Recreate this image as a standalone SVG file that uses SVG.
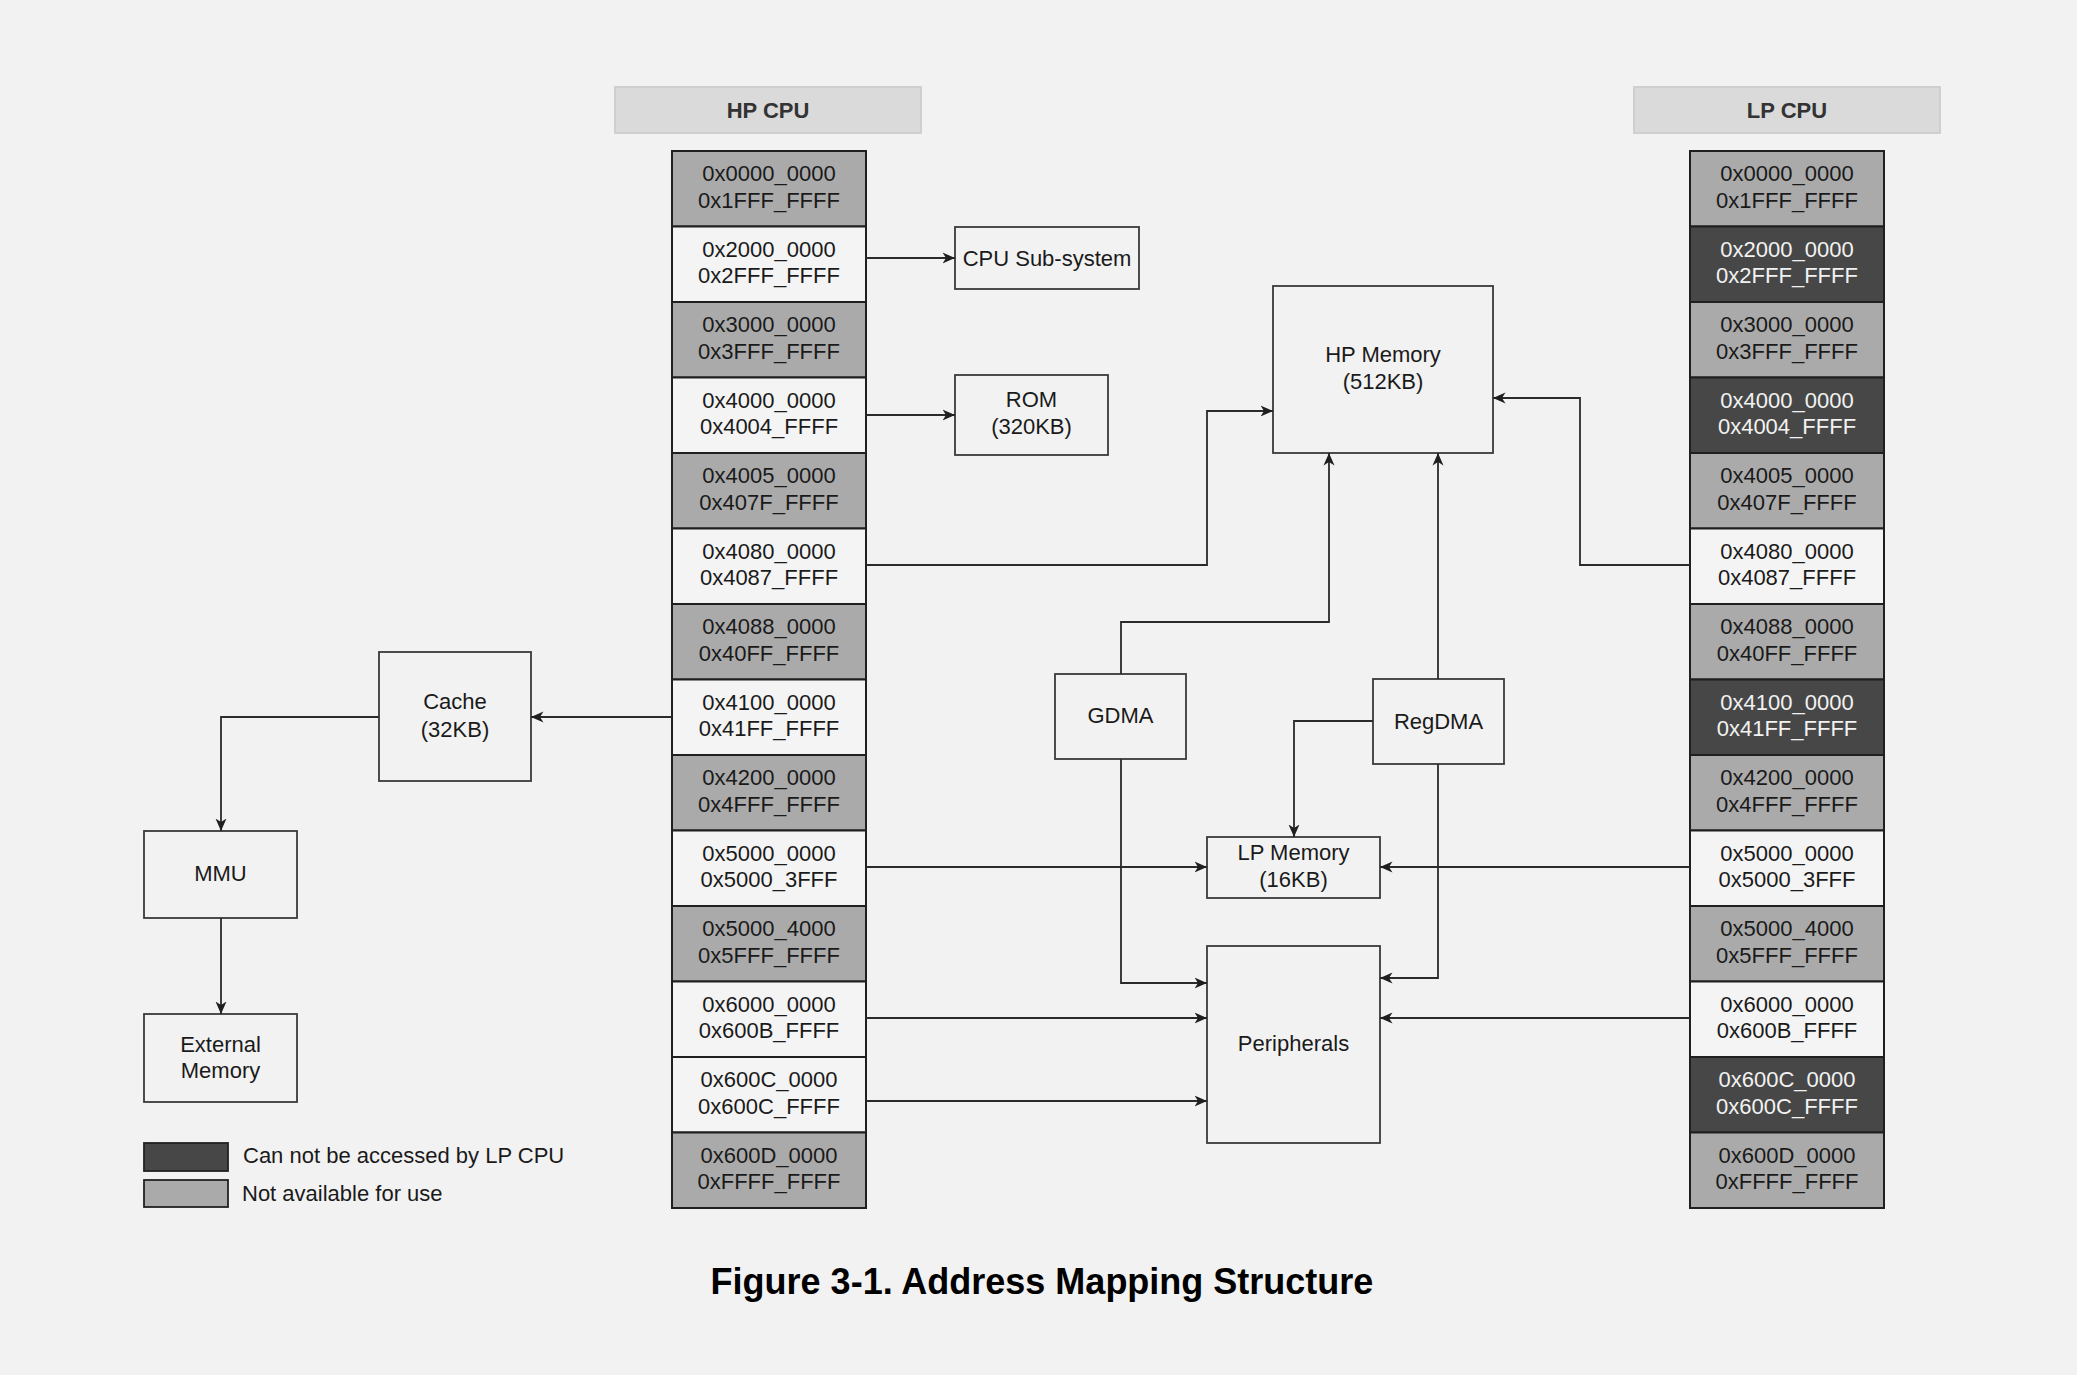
<svg xmlns="http://www.w3.org/2000/svg" width="2077" height="1375" viewBox="0 0 2077 1375">
<style>
  text { font-family: "Liberation Sans", Arial, Helvetica, sans-serif; font-size: 22px; fill: #1a1a1a; text-anchor: middle; }
  .hdr { fill: #dadada; stroke: #cfcfcf; stroke-width: 2; }
  .hdrt { font-weight: bold; fill: #333333; }
  .cell { stroke: #1f1f1f; stroke-width: 2; }
  .g { fill: #aaaaaa; }
  .w { fill: #f4f4f4; }
  .d { fill: #474747; }
  .dt { fill: #f2f2f2; }
  .box { fill: #f2f2f2; stroke: #3a3a3a; stroke-width: 1.8; }
  .conn path { fill: none; stroke: #2b2b2b; stroke-width: 1.8; marker-end: url(#arr); }
  .lg { text-anchor: start; }
  .cap { font-size: 36px; font-weight: bold; fill: #000000; }
</style>
<defs>
  <marker id="arr" markerUnits="userSpaceOnUse" markerWidth="13" markerHeight="12" refX="12.5" refY="6" orient="auto" viewBox="0 0 13 12">
    <path d="M0,0.5 L12.5,6 L0,11.5 L3.5,6 Z" fill="#1f1f1f"/>
  </marker>
</defs>
<rect x="0" y="0" width="2077" height="1375" fill="#f2f2f2"/>

<g id="hp-cpu-header">
  <rect class="hdr" x="615" y="87" width="306" height="46"/>
  <text class="hdrt" x="768" y="118">HP CPU</text>
</g>
<g id="lp-cpu-header">
  <rect class="hdr" x="1634" y="87" width="306" height="46"/>
  <text class="hdrt" x="1787" y="118">LP CPU</text>
</g>

<g id="hp-map">
  <g id="hp-r0"><rect class="cell g" x="672" y="151" width="194" height="75.5"/><text x="769" y="181">0x0000_0000</text><text x="769" y="208">0x1FFF_FFFF</text></g>
  <g id="hp-r1"><rect class="cell w" x="672" y="226.5" width="194" height="75.5"/><text x="769" y="257">0x2000_0000</text><text x="769" y="283">0x2FFF_FFFF</text></g>
  <g id="hp-r2"><rect class="cell g" x="672" y="302" width="194" height="75.5"/><text x="769" y="332">0x3000_0000</text><text x="769" y="359">0x3FFF_FFFF</text></g>
  <g id="hp-r3"><rect class="cell w" x="672" y="377.5" width="194" height="75.5"/><text x="769" y="408">0x4000_0000</text><text x="769" y="434">0x4004_FFFF</text></g>
  <g id="hp-r4"><rect class="cell g" x="672" y="453" width="194" height="75.5"/><text x="769" y="483">0x4005_0000</text><text x="769" y="510">0x407F_FFFF</text></g>
  <g id="hp-r5"><rect class="cell w" x="672" y="528.5" width="194" height="75.5"/><text x="769" y="559">0x4080_0000</text><text x="769" y="585">0x4087_FFFF</text></g>
  <g id="hp-r6"><rect class="cell g" x="672" y="604" width="194" height="75.5"/><text x="769" y="634">0x4088_0000</text><text x="769" y="661">0x40FF_FFFF</text></g>
  <g id="hp-r7"><rect class="cell w" x="672" y="679.5" width="194" height="75.5"/><text x="769" y="710">0x4100_0000</text><text x="769" y="736">0x41FF_FFFF</text></g>
  <g id="hp-r8"><rect class="cell g" x="672" y="755" width="194" height="75.5"/><text x="769" y="785">0x4200_0000</text><text x="769" y="812">0x4FFF_FFFF</text></g>
  <g id="hp-r9"><rect class="cell w" x="672" y="830.5" width="194" height="75.5"/><text x="769" y="861">0x5000_0000</text><text x="769" y="887">0x5000_3FFF</text></g>
  <g id="hp-r10"><rect class="cell g" x="672" y="906" width="194" height="75.5"/><text x="769" y="936">0x5000_4000</text><text x="769" y="963">0x5FFF_FFFF</text></g>
  <g id="hp-r11"><rect class="cell w" x="672" y="981.5" width="194" height="75.5"/><text x="769" y="1012">0x6000_0000</text><text x="769" y="1038">0x600B_FFFF</text></g>
  <g id="hp-r12"><rect class="cell w" x="672" y="1057" width="194" height="75.5"/><text x="769" y="1087">0x600C_0000</text><text x="769" y="1114">0x600C_FFFF</text></g>
  <g id="hp-r13"><rect class="cell g" x="672" y="1132.5" width="194" height="75.5"/><text x="769" y="1163">0x600D_0000</text><text x="769" y="1189">0xFFFF_FFFF</text></g>
</g>

<g id="lp-map">
  <g id="lp-r0"><rect class="cell g" x="1690" y="151" width="194" height="75.5"/><text x="1787" y="181">0x0000_0000</text><text x="1787" y="208">0x1FFF_FFFF</text></g>
  <g id="lp-r1"><rect class="cell d" x="1690" y="226.5" width="194" height="75.5"/><text class="dt" x="1787" y="257">0x2000_0000</text><text class="dt" x="1787" y="283">0x2FFF_FFFF</text></g>
  <g id="lp-r2"><rect class="cell g" x="1690" y="302" width="194" height="75.5"/><text x="1787" y="332">0x3000_0000</text><text x="1787" y="359">0x3FFF_FFFF</text></g>
  <g id="lp-r3"><rect class="cell d" x="1690" y="377.5" width="194" height="75.5"/><text class="dt" x="1787" y="408">0x4000_0000</text><text class="dt" x="1787" y="434">0x4004_FFFF</text></g>
  <g id="lp-r4"><rect class="cell g" x="1690" y="453" width="194" height="75.5"/><text x="1787" y="483">0x4005_0000</text><text x="1787" y="510">0x407F_FFFF</text></g>
  <g id="lp-r5"><rect class="cell w" x="1690" y="528.5" width="194" height="75.5"/><text x="1787" y="559">0x4080_0000</text><text x="1787" y="585">0x4087_FFFF</text></g>
  <g id="lp-r6"><rect class="cell g" x="1690" y="604" width="194" height="75.5"/><text x="1787" y="634">0x4088_0000</text><text x="1787" y="661">0x40FF_FFFF</text></g>
  <g id="lp-r7"><rect class="cell d" x="1690" y="679.5" width="194" height="75.5"/><text class="dt" x="1787" y="710">0x4100_0000</text><text class="dt" x="1787" y="736">0x41FF_FFFF</text></g>
  <g id="lp-r8"><rect class="cell g" x="1690" y="755" width="194" height="75.5"/><text x="1787" y="785">0x4200_0000</text><text x="1787" y="812">0x4FFF_FFFF</text></g>
  <g id="lp-r9"><rect class="cell w" x="1690" y="830.5" width="194" height="75.5"/><text x="1787" y="861">0x5000_0000</text><text x="1787" y="887">0x5000_3FFF</text></g>
  <g id="lp-r10"><rect class="cell g" x="1690" y="906" width="194" height="75.5"/><text x="1787" y="936">0x5000_4000</text><text x="1787" y="963">0x5FFF_FFFF</text></g>
  <g id="lp-r11"><rect class="cell w" x="1690" y="981.5" width="194" height="75.5"/><text x="1787" y="1012">0x6000_0000</text><text x="1787" y="1038">0x600B_FFFF</text></g>
  <g id="lp-r12"><rect class="cell d" x="1690" y="1057" width="194" height="75.5"/><text class="dt" x="1787" y="1087">0x600C_0000</text><text class="dt" x="1787" y="1114">0x600C_FFFF</text></g>
  <g id="lp-r13"><rect class="cell g" x="1690" y="1132.5" width="194" height="75.5"/><text x="1787" y="1163">0x600D_0000</text><text x="1787" y="1189">0xFFFF_FFFF</text></g>
</g>

<g id="cpu-subsystem"><rect class="box" x="955" y="227" width="184" height="62"/><text x="1047" y="266">CPU Sub-system</text></g>
<g id="rom"><rect class="box" x="955" y="375" width="153" height="80"/><text x="1031.5" y="407">ROM</text><text x="1031.5" y="434">(320KB)</text></g>
<g id="hp-memory"><rect class="box" x="1273" y="286" width="220" height="167"/><text x="1383" y="362">HP Memory</text><text x="1383" y="389">(512KB)</text></g>
<g id="gdma"><rect class="box" x="1055" y="674" width="131" height="85"/><text x="1120.5" y="723">GDMA</text></g>
<g id="regdma"><rect class="box" x="1373" y="679" width="131" height="85"/><text x="1438.5" y="729">RegDMA</text></g>
<g id="lp-memory"><rect class="box" x="1207" y="837" width="173" height="61"/><text x="1293.5" y="860">LP Memory</text><text x="1293.5" y="887">(16KB)</text></g>
<g id="peripherals"><rect class="box" x="1207" y="946" width="173" height="197"/><text x="1293.5" y="1051">Peripherals</text></g>
<g id="cache"><rect class="box" x="379" y="652" width="152" height="129"/><text x="455" y="709">Cache</text><text x="455" y="737">(32KB)</text></g>
<g id="mmu"><rect class="box" x="144" y="831" width="153" height="87"/><text x="220.5" y="881">MMU</text></g>
<g id="external-memory"><rect class="box" x="144" y="1014" width="153" height="88"/><text x="220.5" y="1052">External</text><text x="220.5" y="1078">Memory</text></g>

<g id="legend">
  <rect x="144" y="1143" width="84" height="28" fill="#474747" stroke="#222222" stroke-width="1.8"/>
  <text class="lg" x="243" y="1163">Can not be accessed by LP CPU</text>
  <rect x="144" y="1180" width="84" height="27" fill="#aaaaaa" stroke="#222222" stroke-width="1.8"/>
  <text class="lg" x="242" y="1201">Not available for use</text>
</g>

<g id="connectors" class="conn">
  <path d="M866,258 H955"/>
  <path d="M866,415 H955"/>
  <path d="M866,565 H1207 V411 H1273"/>
  <path d="M672,717 H531"/>
  <path d="M379,717 H221 V831"/>
  <path d="M221,918 V1014"/>
  <path d="M1121,674 V622 H1329 V453"/>
  <path d="M1438,679 V453"/>
  <path d="M1690,565 H1580 V398 H1493"/>
  <path d="M1373,721 H1294 V837"/>
  <path d="M866,867 H1207"/>
  <path d="M1690,867 H1380"/>
  <path d="M1121,759 V983 H1207"/>
  <path d="M1438,764 V978 H1380"/>
  <path d="M866,1018 H1207"/>
  <path d="M866,1101 H1207"/>
  <path d="M1690,1018 H1380"/>
</g>

<text class="cap" x="1042" y="1294">Figure 3-1. Address Mapping Structure</text>
</svg>
